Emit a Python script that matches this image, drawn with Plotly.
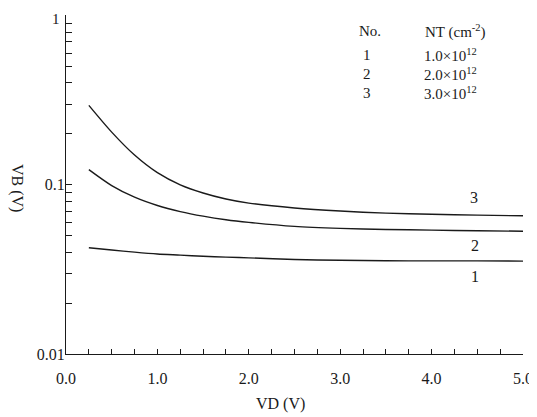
import math
import plotly.graph_objects as go

# ---- data ----
vd = [0.25, 0.5, 0.75, 1.0, 1.25, 1.5, 1.75, 2.0, 2.5, 3.0, 3.5, 4.0, 4.5, 5.0]
vb_nt1 = [0.0425, 0.0412, 0.0400, 0.0390, 0.0384, 0.0378, 0.0374, 0.0370, 0.0362, 0.0358, 0.0356, 0.0355, 0.0355, 0.0354]
vb_nt2 = [0.123, 0.099, 0.0845, 0.0755, 0.0695, 0.0653, 0.0622, 0.0600, 0.0568, 0.0553, 0.0545, 0.0540, 0.0535, 0.0532]
vb_nt3 = [0.295, 0.205, 0.150, 0.118, 0.100, 0.0895, 0.0825, 0.0780, 0.0730, 0.0700, 0.0680, 0.0670, 0.0662, 0.0656]

curve_names = ["1", "2", "3"]
curve_label_x = [4.48, 4.48, 4.46]
curve_label_y = [0.0286, 0.0437, 0.0845]

legend_header = ["No.", "NT (cm<sup>-2</sup>)"]
legend_numbers = ["1", "2", "3"]
legend_values = ["1.0×10<sup>12</sup>", "2.0×10<sup>12</sup>", "3.0×10<sup>12</sup>"]

x_tickvals = [i * 0.25 for i in range(21)]
x_ticktext = [f"{v:.1f}" if abs(v - round(v)) < 1e-9 else "" for v in x_tickvals]
y_tickvals = [m * 10 ** e for e in (-2, -1) for m in range(1, 10)] + [1.0]
y_ticklabels = {0.01: "0.01", 0.1: "0.1", 1.0: "1"}
# the top label sits at the very edge of the figure, so it is drawn as an annotation below
y_ticktext = [y_ticklabels.get(round(v, 6), "") if v < 1 else "" for v in y_tickvals]

FONT = "Liberation Serif, DejaVu Serif, serif"
INK = "#1a1a1a"

# The page body has an 8px margin, so size the figure to the visible window.
OFF = 8
W, H = 537 - OFF, 417 - OFF
# plot area in page pixels: x 66..523, y 15..354
ML, MR, MT, MB = 66 - OFF, 537 - 523, 15 - OFF, 417 - 354
PW, PH = W - ML - MR, H - MT - MB
Y_TOP = 0.004


def page_to_paper(xp, yp):
    xf, yf = xp - OFF, yp - OFF
    return (xf - ML) / PW, 1 - (yf - MT) / PH


fig = go.Figure()
for ys in (vb_nt1, vb_nt2, vb_nt3):
    fig.add_trace(go.Scatter(x=vd, y=ys, mode="lines",
                             line=dict(color=INK, width=1.4, shape="spline", smoothing=0.8),
                             showlegend=False, hoverinfo="skip"))

annotations = []
for name, xv, yv in zip(curve_names, curve_label_x, curve_label_y):
    annotations.append(dict(x=xv, y=math.log10(yv), xref="x", yref="y", text=name, showarrow=False,
                            xanchor="center", yanchor="middle",
                            font=dict(family=FONT, size=16, color=INK)))

# top decade label of the y axis
annotations.append(dict(x=0, y=math.log10(1.0), xref="paper", yref="y", text=y_ticklabels[1.0],
                        showarrow=False, xanchor="right", yanchor="middle", xshift=-4, yshift=-3,
                        font=dict(family=FONT, size=15, color=INK)))


def add_text(xp, yp, text, size=14, xanchor="center", angle=0):
    px, py = page_to_paper(xp, yp)
    annotations.append(dict(x=px, y=py, xref="paper", yref="paper", text=text, showarrow=False,
                            xanchor=xanchor, yanchor="middle", textangle=angle,
                            font=dict(family=FONT, size=size, color=INK)))


add_text(370, 31, legend_header[0], size=15)
add_text(423, 31, legend_header[1], size=15, xanchor="left")
for i, (n, v) in enumerate(zip(legend_numbers, legend_values)):
    ry = 55 + i * 19
    add_text(367, ry, n, size=15)
    add_text(422, ry, v, size=15, xanchor="left")

add_text(17, 188, "VB (V)", size=16, angle=90)
add_text(280, 404, "VD (V)", size=16)

fig.update_layout(
    width=W, height=H,
    margin=dict(l=ML, r=MR, t=MT, b=MB, autoexpand=False),
    paper_bgcolor="white", plot_bgcolor="white",
    font=dict(family=FONT, color=INK),
    annotations=annotations,
    xaxis=dict(range=[0, 5], tickmode="array", tickvals=x_tickvals, ticktext=x_ticktext,
               ticks="inside", ticklen=5, tickcolor=INK, showgrid=False, zeroline=False,
               showline=True, linecolor=INK, linewidth=1.2, ticklabelstandoff=10,
               automargin=False, tickfont=dict(family=FONT, size=16, color=INK)),
    yaxis=dict(type="log", range=[-2, Y_TOP], tickmode="array", tickvals=y_tickvals, ticktext=y_ticktext,
               ticks="inside", ticklen=6, tickcolor=INK, showgrid=False, zeroline=False,
               showline=True, linecolor=INK, linewidth=1.2, ticklabelstandoff=-3,
               automargin=False, tickfont=dict(family=FONT, size=16, color=INK)),
)

fig.write_html("out.html")
